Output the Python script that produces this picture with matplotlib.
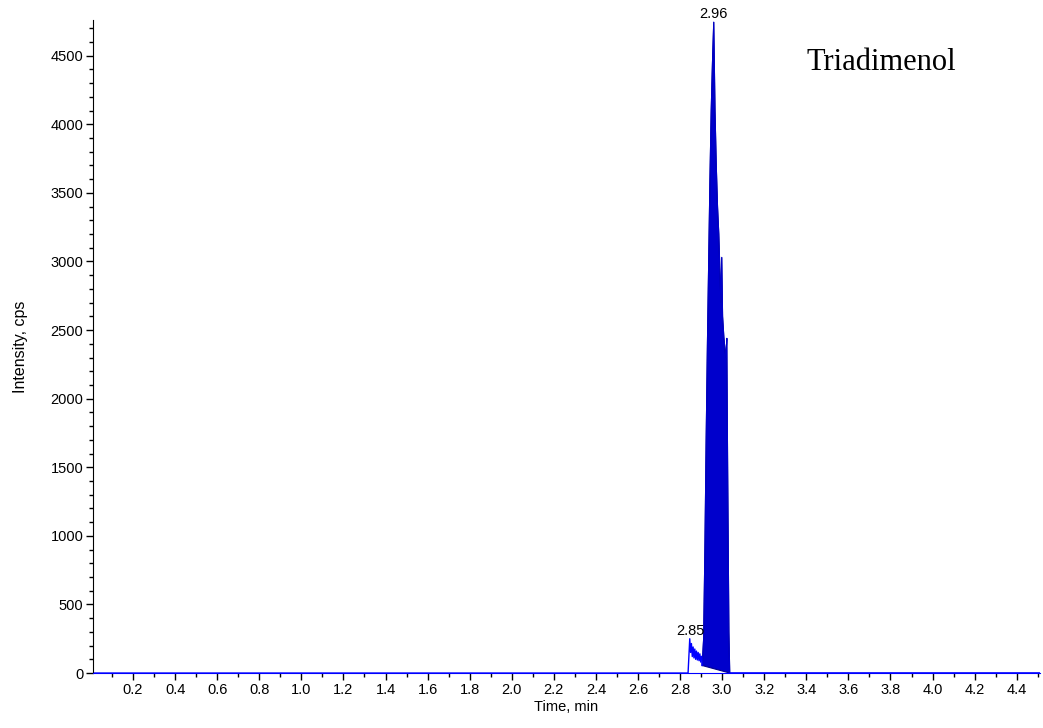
import numpy as np
import matplotlib.pyplot as plt
from matplotlib.ticker import MultipleLocator

# Chromatogram trace (time in min, intensity in cps)
time_pre = [0.01, 2.838, 2.846, 2.850, 2.854, 2.858, 2.862, 2.866, 2.870,
            2.874, 2.878, 2.882, 2.886, 2.890, 2.894, 2.898, 2.902]
inten_pre = [0, 0, 250, 150, 215, 120, 190, 110, 175,
             100, 160, 95, 150, 90, 140, 80, 120]

# Integrated peak at 2.96 min
time_peak = [2.905, 2.912, 2.918, 2.924, 2.930, 2.936, 2.942, 2.948, 2.954,
             2.960, 2.966, 2.972, 2.978, 2.984, 2.990, 2.994, 2.998, 3.002,
             3.008, 3.014, 3.018, 3.022, 3.026, 3.032, 3.036]
inten_peak = [55, 250, 900, 1700, 2400, 3000, 3600, 4100, 4450,
              4745, 4100, 3700, 3400, 3200, 2900, 2700, 3030, 2600,
              2450, 2350, 2300, 2440, 1500, 300, 0]

time_post = [3.036, 4.51]
inten_post = [0, 0]

peak_labels = [(2.96, 4745, "2.96"), (2.85, 250, "2.85")]
compound = "Triadimenol"

plt.rcParams['font.family'] = ['Liberation Sans', 'DejaVu Sans']

fig = plt.figure(figsize=(10.43, 7.28), dpi=100)
ax = fig.add_axes([0.0892, 0.0755, 0.9078, 0.897])

line_col = '#0000ff'
fill_col = '#0000cc'

ax.plot(time_pre, inten_pre, color=line_col, lw=1.0)
ax.plot(time_post, inten_post, color=line_col, lw=1.2)
ax.fill(time_peak, inten_peak, facecolor=fill_col, edgecolor='#00008b', lw=0.8)
ax.plot(time_peak, inten_peak, color=fill_col, lw=0.8)
ax.plot([time_pre[-1], time_peak[0]], [inten_pre[-1], inten_peak[0]], color=line_col, lw=1.0)

for x, y, s in peak_labels:
    ax.annotate(s, (x, y), xytext=(0, 0.5), textcoords='offset points',
                ha='center', va='bottom', fontsize=10.5, annotation_clip=False)

ax.text(0.753, 0.935, compound, transform=ax.transAxes, fontsize=22,
        family='Liberation Serif', va='center', ha='left')

ax.set_xlim(0.01, 4.51)
ax.set_ylim(0, 4760)

ax.xaxis.set_minor_locator(MultipleLocator(0.1))
ax.yaxis.set_major_locator(MultipleLocator(500))
ax.yaxis.set_minor_locator(MultipleLocator(100))
xt = np.round(np.arange(0.2, 4.41, 0.2), 1)
ax.set_xticks(xt)
ax.set_xticklabels([f"{v:.1f}" for v in xt])

ax.tick_params(axis='both', which='major', length=5, width=1, labelsize=10.5,
               direction='out', pad=2)
ax.tick_params(axis='both', which='minor', length=3, width=1, direction='out')

for side in ('top', 'right'):
    ax.spines[side].set_visible(False)
ax.spines['bottom'].set_color(line_col)

ax.set_xlabel("Time, min", fontsize=10.5, labelpad=2)
ax.set_ylabel("Intensity, cps", fontsize=11.5, labelpad=16)

fig.savefig("out.png", dpi=100)
